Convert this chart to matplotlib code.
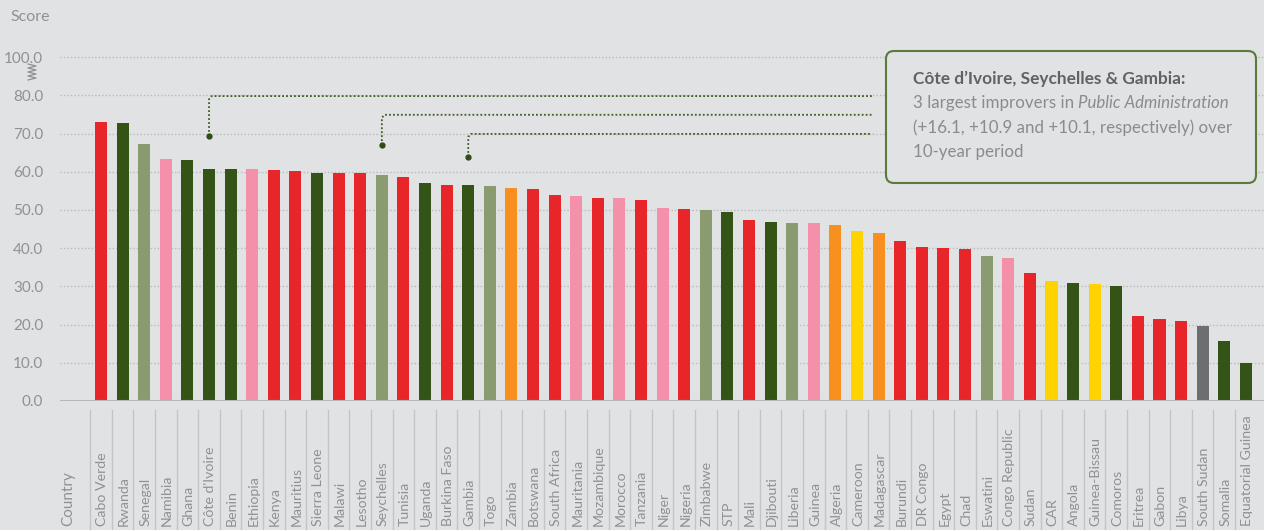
import matplotlib
matplotlib.use("Agg")
import matplotlib.pyplot as plt
from matplotlib.patches import FancyBboxPatch
from matplotlib.transforms import blended_transform_factory, IdentityTransform

countries = ["Cabo Verde", "Rwanda", "Senegal", "Namibia", "Ghana", "Côte d'Ivoire", "Benin",
             "Ethiopia", "Kenya", "Mauritius", "Sierra Leone", "Malawi", "Lesotho", "Seychelles",
             "Tunisia", "Uganda", "Burkina Faso", "Gambia", "Togo", "Zambia", "Botswana",
             "South Africa", "Mauritania", "Mozambique", "Morocco", "Tanzania", "Niger", "Nigeria",
             "Zimbabwe", "STP", "Mali", "Djibouti", "Liberia", "Guinea", "Algeria", "Cameroon",
             "Madagascar", "Burundi", "DR Congo", "Egypt", "Chad", "Eswatini", "Congo Republic",
             "Sudan", "CAR", "Angola", "Guinea-Bissau", "Comoros", "Eritrea", "Gabon", "Libya",
             "South Sudan", "Somalia", "Equatorial Guinea"]
scores = [73.1, 72.8, 67.3, 63.4, 63.1, 60.7, 60.7, 60.7, 60.4, 60.2, 59.7, 59.7, 59.7, 59.2,
          58.6, 57.1, 56.6, 56.6, 56.3, 55.8, 55.5, 53.9, 53.7, 53.2, 53.2, 52.6, 50.5, 50.3,
          50.0, 49.5, 47.4, 46.8, 46.6, 46.6, 46.1, 44.5, 44.0, 41.9, 40.3, 40.1, 39.8, 38.0,
          37.5, 33.6, 31.3, 31.0, 30.5, 30.2, 22.3, 21.5, 21.0, 19.6, 15.7, 10.0]
groups = ["r", "g", "s", "p", "g", "g", "g", "p", "r", "r", "g", "r", "r", "s", "r", "g", "r", "g",
          "s", "o", "r", "r", "p", "r", "p", "r", "p", "r", "s", "g", "r", "g", "s", "p", "o", "y",
          "o", "r", "r", "r", "r", "s", "p", "r", "y", "g", "y", "g", "r", "r", "r", "k", "g", "g"]
palette = {"r": "#E8262A", "g": "#335416", "s": "#8A9B6F", "p": "#F590AA",
           "o": "#F7901E", "y": "#FED300", "k": "#6D6E71"}

yticks = [0, 10, 20, 30, 40, 50, 60, 70, 80, 90]
ytick_labels = ["0.0", "10.0", "20.0", "30.0", "40.0", "50.0", "60.0", "70.0", "80.0", "100.0"]

# improvers: (index, marker y, level of horizontal leader)
improvers = [(5, 69.4, 79.8), (13, 67.0, 74.9), (17, 63.9, 69.9)]

bg = "#E1E2E4"
grey_txt = "#909194"
plt.rcParams["font.family"] = ["Lato", "DejaVu Sans"]

fig = plt.figure(figsize=(12.64, 5.30), dpi=100, facecolor=bg)
ax = fig.add_axes([60 / 1264, 129 / 530, 1 - 60 / 1264, (401 - 38) / 530])
ax.set_facecolor(bg)

x = list(range(len(countries)))
ax.bar(x, scores, width=0.56, color=[palette[g] for g in groups], zorder=3)

ax.set_xlim(-1.9, 53.84)
ax.set_ylim(0, 95)
ax.set_yticks(yticks)
ax.set_yticklabels(ytick_labels, fontsize=11, color=grey_txt)
ax.tick_params(axis="y", length=0, pad=12)
ax.set_xticks([])
for s in ax.spines.values():
    s.set_visible(False)
for t in yticks[1:]:
    ax.axhline(t, color="#B9BABC", lw=1, ls=(0, (1, 1.5)), zorder=1)
ax.axhline(0, color="#B7B8BA", lw=2.2, zorder=4)

# axis break symbol
zx = [28, 36, 28, 36, 28, 36, 28, 36, 28]
zy = [530 - 64 - i * 2 for i in range(len(zx))]
fig.add_artist(plt.Line2D([v / 1264 for v in zx], [v / 530 for v in zy],
                          transform=fig.transFigure, color="#8f9092", lw=0.9))

fig.text(10 / 1264, 1 - 17 / 530, "Score", fontsize=11.5, color=grey_txt, va="center")

# category labels and separators below the axis
bt = blended_transform_factory(ax.transData, fig.transFigure)
for i, name in enumerate(countries):
    ax.text(i + 0.05, 4 / 530, name, transform=bt, rotation=90, ha="center", va="bottom",
            fontsize=10.2, color=grey_txt, clip_on=False)
    ax.plot([i - 0.5, i - 0.5], [0, 120 / 530], transform=bt, color="#C3C4C6",
            lw=1, clip_on=False)
ax.text(-1.5, 4 / 530, "Country", transform=bt, rotation=90, ha="center", va="bottom",
        fontsize=11, color=grey_txt, clip_on=False)

# leader lines for the three improvers
x_end = 35.7
for idx, my, level in improvers:
    ax.plot([idx, idx, idx + 0.12, x_end], [my, level - 0.8, level, level],
            color="#3E5E22", lw=1.3, ls=(0, (1, 1.2)), zorder=5, clip_on=False)
    ax.plot(idx, my, "o", color="#2F4D15", ms=3.5, zorder=6)

# callout box
box = FancyBboxPatch((886, 530 - 183), 370, 132, boxstyle="round,pad=0,rounding_size=8",
                     transform=IdentityTransform(), facecolor=bg, edgecolor="#5B7A3C", lw=1.5)
fig.add_artist(box)

tx = 913 / 1264
fig.text(tx, 1 - 79 / 530, "Côte d\u2019Ivoire, Seychelles & Gambia:", fontsize=12.4,
         fontweight="bold", color="#616265", va="center")
body_col = "#8A8B8E"
t1 = fig.text(tx, 1 - 103 / 530, "3 largest improvers in ", fontsize=12.2, color=body_col,
              va="center")
renderer = fig.canvas.get_renderer()
ext = t1.get_window_extent(renderer=renderer)
fig.text(ext.x1 / 1264, 1 - 103 / 530, "Public Administration", fontsize=12.2,
         style="italic", color=body_col, va="center")
fig.text(tx, 1 - 128 / 530, "(+16.1, +10.9 and +10.1, respectively) over", fontsize=12.2,
         color=body_col, va="center")
fig.text(tx, 1 - 152 / 530, "10-year period", fontsize=12.2, color=body_col, va="center")

fig.savefig("out.png", dpi=100, facecolor=bg)
